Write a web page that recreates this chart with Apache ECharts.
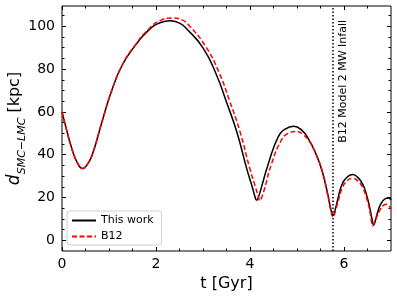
<!DOCTYPE html>
<html><head><meta charset="utf-8">
<script src="https://cdn.jsdelivr.net/npm/echarts@6/dist/echarts.min.js"></script>
<style>html,body{margin:0;padding:0;background:#fff}#c{width:397px;height:297px}</style>
</head><body><div id="c"></div>
<script>
// ---- data ----
const tThisWork = [0, 0.1, 0.21, 0.32, 0.44, 0.54, 0.64, 0.85, 1.06, 1.28, 1.56, 1.84, 2.1, 2.3, 2.5, 2.65, 3.01, 3.29, 3.5, 3.72, 3.93, 4.05, 4.1, 4.14, 4.18, 4.24, 4.39, 4.6, 4.75, 4.93, 5.1, 5.24, 5.4, 5.53, 5.66, 5.72, 5.77, 5.82, 5.86, 5.95, 6.05, 6.18, 6.3, 6.41, 6.5, 6.55, 6.6, 6.63, 6.67, 6.72, 6.77, 6.86, 6.95, 7.0];
const dThisWork = [60, 51.4, 42.8, 36.5, 33.5, 35.5, 39.7, 55.3, 70.1, 81.8, 91.1, 98.1, 101.8, 102.6, 101.5, 98.9, 89.6, 77.1, 64.6, 50.6, 33.5, 24.8, 20.8, 18.7, 20.2, 24.5, 35.8, 48.3, 52, 53.3, 51.5, 47.5, 40.5, 32.7, 21, 14.5, 11.8, 15, 18.5, 25.7, 29.2, 30.7, 29.3, 25.7, 19.5, 15, 9.5, 7.0, 9.5, 13.5, 16.4, 19.2, 19.8, 18.9];
const tB12 = [0, 0.1, 0.21, 0.32, 0.44, 0.54, 0.64, 0.85, 1.06, 1.28, 1.56, 1.84, 2.1, 2.34, 2.55, 2.7, 3.06, 3.35, 3.56, 3.78, 3.99, 4.11, 4.17, 4.21, 4.25, 4.31, 4.46, 4.66, 4.81, 4.99, 5.12, 5.26, 5.4, 5.53, 5.66, 5.72, 5.77, 5.82, 5.87, 5.96, 6.06, 6.18, 6.3, 6.41, 6.5, 6.55, 6.58, 6.61, 6.65, 6.7, 6.76, 6.84, 6.9, 6.95, 7.0];
const dB12 = [60, 51.4, 42.8, 36.5, 33.5, 35.5, 39.7, 55.3, 70.1, 81.8, 91.3, 98.6, 102.8, 103.9, 103, 100.5, 90.5, 78, 65.5, 51.3, 34, 25.3, 21, 18.5, 20, 24.2, 35.8, 46.5, 50, 50.9, 49.5, 46.4, 40.5, 32.7, 20.5, 14, 10.9, 14, 17.8, 24.3, 27.7, 28.9, 27.6, 24, 18.3, 13.5, 9.5, 6.7, 8.5, 11, 14, 16.3, 16.8, 16.2, 14.6];
const infallTime = 5.77;
const infallLabel = 'B12 Model 2 MW Infall';
const seriesNames = ['This work', 'B12'];
const xMajorTicks = [0, 2, 4, 6];
const xMinorTicks = [0.5, 1, 1.5, 2.5, 3, 3.5, 4.5, 5, 5.5, 6.5];
const yMajorTicks = [0, 20, 40, 60, 80, 100];
const yMinorTicks = [5, 10, 15, 25, 30, 35, 45, 50, 55, 65, 70, 75, 85, 90, 95, 105];
const xRange = [0, 7];
const yRange = [-5, 109.5];

const FONT = 'DejaVu Sans';
const chart = echarts.init(document.getElementById('c'), null, {renderer: 'canvas'});

function xAx(pos, ticks, len, showLabel) {
  return {
    type: 'value', position: pos, min: xRange[0], max: xRange[1],
    axisLine: {show: false, onZero: false},
    splitLine: {show: false},
    axisTick: {show: true, inside: true, length: len, customValues: ticks, lineStyle: {color: '#000', width: 1}},
    axisLabel: {show: showLabel, customValues: ticks, color: '#000', fontFamily: FONT, fontSize: 14, margin: 6},
    name: showLabel ? 't [Gyr]' : '', nameLocation: 'middle', nameGap: 25,
    nameTextStyle: {color: '#000', fontFamily: FONT, fontSize: 16}
  };
}
function yAx(pos, ticks, len, showLabel) {
  return {
    type: 'value', position: pos, min: yRange[0], max: yRange[1],
    axisLine: {show: false, onZero: false},
    splitLine: {show: false},
    axisTick: {show: true, inside: true, length: len, customValues: ticks, lineStyle: {color: '#000', width: 1}},
    axisLabel: {show: showLabel, customValues: ticks, color: '#000', fontFamily: FONT, fontSize: 14, margin: 7},
    name: showLabel ? '{d|d}{s|SMC\u2212LMC}{n| [kpc]}' : '', nameLocation: 'middle', nameGap: 34, nameRotate: 90,
    nameMoveOverlap: false,
    nameTextStyle: {
      color: '#000', fontFamily: FONT, fontSize: 16,
      rich: {
        d: {fontFamily: FONT, fontSize: 17, fontStyle: 'italic', color: '#000', lineHeight: 26, verticalAlign: 'middle'},
        s: {fontFamily: FONT, fontSize: 11, fontStyle: 'italic', color: '#000', lineHeight: 12, verticalAlign: 'bottom'},
        n: {fontFamily: FONT, fontSize: 16, color: '#000', lineHeight: 26, verticalAlign: 'middle'}
      }
    }
  };
}

const option = {
  animation: false,
  backgroundColor: '#fff',
  grid: {left: 62, right: 6, top: 6, bottom: 46, containLabel: false, outerBoundsMode: 'none',
         show: true, borderColor: '#000', borderWidth: 1, backgroundColor: 'transparent'},
  xAxis: [
    xAx('bottom', xMajorTicks, 4, true),
    xAx('bottom', xMinorTicks, 2.5, false),
    xAx('top', xMajorTicks, 4, false),
    xAx('top', xMinorTicks, 2.5, false)
  ],
  yAxis: [
    yAx('left', yMajorTicks, 4, true),
    yAx('left', yMinorTicks, 2.5, false),
    yAx('right', yMajorTicks, 4, false),
    yAx('right', yMinorTicks, 2.5, false)
  ],
  legend: {
    orient: 'vertical', left: 67, top: 211,
    itemWidth: 24, itemHeight: 10, itemGap: 5,
    padding: [4, 8, 3, 4],
    itemStyle: {opacity: 0},
    borderColor: '#d0d0d0', borderWidth: 1, borderRadius: 3, backgroundColor: '#fff',
    textStyle: {color: '#000', fontFamily: FONT, fontSize: 11},
    data: seriesNames
  },
  series: [
    {
      name: seriesNames[0], type: 'line', xAxisIndex: 0, yAxisIndex: 0,
      data: tThisWork.map((t, i) => [t, dThisWork[i]]),
      symbol: 'none', smooth: 0.5,
      lineStyle: {color: '#000', width: 1.5}, itemStyle: {color: '#000'},
      z: 3,
      markLine: {
        silent: true, symbol: 'none', animation: false,
        lineStyle: {type: [1.5, 2], color: '#000', width: 1.5},
        label: {show: false},
        data: [{xAxis: infallTime}]
      }
    },
    {
      name: seriesNames[1], type: 'line', xAxisIndex: 0, yAxisIndex: 0,
      data: tB12.map((t, i) => [t, dB12[i]]),
      symbol: 'none', smooth: 0.5,
      lineStyle: {color: '#ff0000', width: 1.5, type: [5, 2.5]}, itemStyle: {color: '#ff0000'},
      z: 4
    }
  ]
};
chart.setOption(option);

const lx = chart.convertToPixel({xAxisIndex: 0}, infallTime);
chart.setOption({
  graphic: [{
    type: 'text', x: lx + 10, y: 20, rotation: Math.PI / 2, z: 10,
    style: {text: infallLabel, fill: '#000', font: '11px "DejaVu Sans"', textAlign: 'right', textVerticalAlign: 'middle', align: 'right', verticalAlign: 'middle'}
  }]
});
</script>
</body></html>
